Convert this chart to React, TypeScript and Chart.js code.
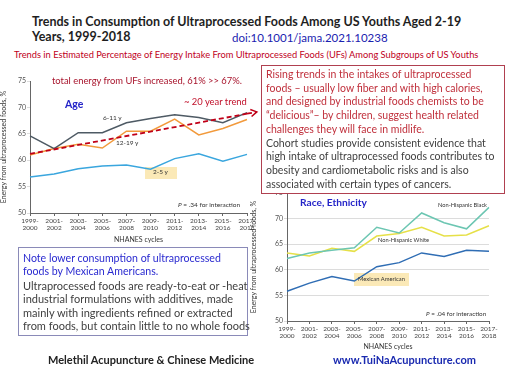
import React, { useEffect, useRef } from "react";
import { Chart, registerables } from "chart.js";
Chart.register(...registerables);

const cycles = [
  ["1999-", "2000"], ["2001-", "2002"], ["2003-", "2004"], ["2005-", "2006"], ["2007-", "2008"],
  ["2009-", "2010"], ["2011-", "2012"], ["2013-", "2014"], ["2015-", "2016"], ["2017-", "2018"],
];
const age2to5 = [56.8, 57.4, 58.4, 58.9, 59.1, 58.3, 60.3, 61.2, 59.8, 61.1];
const age6to11 = [64.6, 62.2, 65.2, 65.2, 67.1, 67.9, 68.6, 68.1, 67.1, 69.0];
const age12to19 = [61.0, 62.2, 63.0, 62.3, 65.5, 65.5, 67.8, 64.8, 66.0, 67.7];
const trend20y = [61.2, null, null, null, null, null, null, null, null, 68.8];
const mexicanAmerican = [55.8, 57.4, 58.7, 57.8, 60.6, 61.4, 63.3, 62.6, 63.8, 63.6];
const nhWhite = [63.3, 62.7, 64.2, 63.6, 66.6, 67.1, 68.3, 66.6, 66.8, 68.6];
const nhBlack = [62.2, 63.3, 63.8, 64.3, 68.3, 67.2, 71.1, 69.2, 68.0, 72.2];
const yMin = 50;
const yMax = 75;
const yStep = 5;

const FONT = "Lato, 'Open Sans', sans-serif";

const arrowPlugin = {
  id: "trendArrow",
  afterDatasetsDraw(chart: any) {
    chart.data.datasets.forEach((ds: any, i: number) => {
      if (!ds.arrow) return;
      const meta = chart.getDatasetMeta(i);
      const pts = meta.data.filter((p: any, j: number) => ds.data[j] != null);
      if (pts.length < 2) return;
      const a = pts[0], b = pts[pts.length - 1];
      const dx = b.x - a.x, dy = b.y - a.y;
      const len = Math.hypot(dx, dy);
      const ux = dx / len, uy = dy / len;
      const tipX = b.x + ux * 10, tipY = b.y + uy * 10;
      const ctx = chart.ctx;
      ctx.save();
      ctx.strokeStyle = ds.borderColor;
      ctx.lineWidth = ds.borderWidth;
      ctx.setLineDash(ds.borderDash || []);
      ctx.beginPath();
      ctx.moveTo(b.x, b.y);
      ctx.lineTo(tipX, tipY);
      ctx.stroke();
      ctx.setLineDash([]);
      ctx.lineWidth = 1.5;
      const s = 6;
      const px = -uy, py = ux;
      ctx.beginPath();
      ctx.moveTo(tipX - ux * s + px * s * 0.6, tipY - uy * s + py * s * 0.6);
      ctx.lineTo(tipX, tipY);
      ctx.lineTo(tipX - ux * s - px * s * 0.6, tipY - uy * s - py * s * 0.6);
      ctx.stroke();
      ctx.restore();
    });
  },
};

function line(label: string, data: any[], color: string, extra: any = {}) {
  return {
    label,
    data,
    borderColor: color,
    backgroundColor: color,
    borderWidth: 1.5,
    pointRadius: 0,
    tension: 0,
    fill: false,
    ...extra,
  };
}

function makeOptions(yAxisWidth: number, xAxisHeight: number, padding: any, gridY: boolean) {
  return {
    responsive: true,
    maintainAspectRatio: false,
    animation: false,
    layout: { padding },
    plugins: { legend: { display: false }, tooltip: { enabled: false } },
    scales: {
      x: {
        offset: false,
        grid: { drawOnChartArea: false, drawTicks: true, tickLength: 3, color: "#666" },
        border: { color: "#666" },
        ticks: {
          autoSkip: false, maxRotation: 0, padding: 1, color: "#444",
          font: { family: FONT, size: 6.5, lineHeight: 1.1 },
        },
        title: {
          display: true, text: "NHANES cycles", color: "#333",
          font: { family: FONT, size: 7 }, padding: { top: 2, bottom: 0 },
        },
        afterFit: (s: any) => { s.height = xAxisHeight; },
      },
      y: {
        min: yMin, max: yMax,
        grid: { drawOnChartArea: gridY, drawTicks: true, tickLength: 3, color: "#dcdcdc" },
        border: { color: "#666" },
        ticks: { stepSize: yStep, padding: 1, color: "#555", font: { family: FONT, size: 7 } },
        title: {
          display: true, text: "Energy from ultraprocessed foods, %", color: "#333",
          font: { family: FONT, size: 7 }, padding: { top: 0, bottom: 2 },
        },
        afterFit: (s: any) => { s.width = yAxisWidth; },
      },
    },
  };
}

function ChartBox({ left, top, width, height, config }: any) {
  const ref = useRef<HTMLCanvasElement>(null);
  useEffect(() => {
    const chart = new Chart(ref.current as HTMLCanvasElement, config());
    return () => chart.destroy();
  }, []);
  return (
    <div style={{ position: "absolute", left, top, width, height }}>
      <canvas ref={ref} />
    </div>
  );
}

function T({ x, y, size, color = "#222", weight = 400, children, style = {} }: any) {
  return (
    <div
      style={{
        position: "absolute", left: x, top: y, fontSize: size, color, fontWeight: weight,
        whiteSpace: "nowrap", lineHeight: 1, fontFamily: FONT, ...style,
      }}
    >
      {children}
    </div>
  );
}

export default function App() {
  const ageConfig = () => ({
    type: "line",
    data: {
      labels: cycles,
      datasets: [
        line("~ 20 year trend", trend20y, "#c00018", { spanGaps: true, borderDash: [5, 3], borderWidth: 1.8, arrow: true, clip: false }),
        line("6-11 y", age6to11, "#4e5a64"),
        line("12-19 y", age12to19, "#f29a3c"),
        line("2-5 y", age2to5, "#3aa6de"),
      ],
    },
    options: makeOptions(30, 31, { top: 11, right: 15, left: 0, bottom: 6 }, false),
    plugins: [arrowPlugin],
  });
  const raceConfig = () => ({
    type: "line",
    data: {
      labels: cycles,
      datasets: [
        line("Non-Hispanic Black", nhBlack, "#6cc6b2"),
        line("Non-Hispanic White", nhWhite, "#e6e048"),
        line("Mexican American", mexicanAmerican, "#2f6db4"),
      ],
    },
    options: makeOptions(37, 30, { top: 13, right: 23, left: 0, bottom: 9 }, true),
  });

  const redLines = [
    "Rising trends in the intakes of ultraprocessed",
    "foods \u2013 usually low fiber and with high calories,",
    "and designed by industrial foods chemists to be",
    "\u201cdelicious\u201d\u2013 by children, suggest health related",
    "challenges they will face in midlife.",
  ];
  const grayLines = [
    "Cohort studies provide consistent evidence that",
    "high intake of ultraprocessed  foods contributes to",
    "obesity and cardiometabolic risks and is also",
    "associated with certain types of cancers.",
  ];
  const blueLines = ["Note lower consumption of ultraprocessed", "foods by Mexican Americans."];
  const leftGray = [
    "Ultraprocessed foods are ready-to-eat  or -heat",
    "industrial formulations with additives, made",
    "mainly with ingredients refined or extracted",
    "from foods, but contain little to no whole foods",
  ];

  return (
    <div style={{ position: "absolute", left: 0, top: 0, width: 512, height: 384, background: "#fff", overflow: "hidden", fontFamily: FONT }}>
      <T x={32} y={16} size={12.5} weight={700} color="#1e1e1e">Trends in Consumption of Ultraprocessed Foods Among US Youths Aged 2-19</T>
      <T x={32} y={31} size={12.5} weight={700} color="#1e1e1e">Years, 1999-2018</T>
      <T x={232} y={32} size={11.5} color="#1a22b0">doi:10.1001/jama.2021.10238</T>
      <T x={14} y={50} size={9.3} color="#c0001c">Trends in Estimated Percentage of Energy Intake From Ultraprocessed Foods (UFs) Among Subgroups of US Youths</T>

      <div style={{ position: "absolute", left: 145, top: 167, width: 32, height: 12, background: "#fbe9b7" }} />
      <div style={{ position: "absolute", left: 354, top: 273, width: 55, height: 13, background: "#fbe9b7" }} />

      <ChartBox left={0} top={70} width={262} height={180} config={ageConfig} />
      <ChartBox left={250} top={180} width={262} height={180} config={raceConfig} />

      <T x={52} y={76} size={9.4} color="#a8142c">total energy from UFs increased, 61% &gt;&gt;  67%.</T>
      <T x={65} y={99} size={10.5} weight={700} color="#2424c8">Age</T>
      <T x={184} y={97} size={9.4} color="#c0102a">~ 20 year trend</T>
      <T x={103} y={115} size={6.5} color="#333">6-11 y</T>
      <T x={116} y={140} size={6.5} color="#333">12-19 y</T>
      <T x={153} y={169} size={6.5} color="#333">2-5 y</T>
      <T x={178} y={202} size={6.5} color="#333"><i>P</i> = .34 for interaction</T>

      <T x={300} y={197} size={10.2} weight={700} color="#2424c8">Race, Ethnicity</T>
      <T x={438} y={202} size={5.7} color="#333">Non-Hispanic Black</T>
      <T x={378} y={237} size={5.7} color="#333">Non-Hispanic White</T>
      <T x={358} y={276} size={5.8} color="#333">Mexican American</T>
      <T x={426} y={311} size={6.3} color="#333"><i>P</i> = .04 for interaction</T>

      <div style={{ position: "absolute", left: 261, top: 65, width: 242, height: 127, border: "1px solid #b04050", background: "#fff" }} />
      {redLines.map((s, i) => (
        <T key={"r" + i} x={266} y={69 + i * 13.7} size={10.5} color="#c0303c">{s}</T>
      ))}
      {grayLines.map((s, i) => (
        <T key={"g" + i} x={266} y={69 + (i + 5) * 13.7} size={10.5} color="#404040">{s}</T>
      ))}

      <div style={{ position: "absolute", left: 18, top: 247, width: 228, height: 87, border: "1px solid #8a8ab8", background: "#fff" }} />
      {blueLines.map((s, i) => (
        <T key={"b" + i} x={23} y={252.5 + i * 13.5} size={10.6} color="#2a2ad0">{s}</T>
      ))}
      {leftGray.map((s, i) => (
        <T key={"l" + i} x={23} y={252.5 + (i + 2) * 13.5} size={11} color="#404040">{s}</T>
      ))}

      <T x={48} y={354} size={11} weight={700} color="#222">Melethil Acupuncture &amp; Chinese Medicine</T>
      <T x={333} y={354} size={11} weight={700} color="#1a2ab0">www.TuiNaAcupuncture.com</T>
    </div>
  );
}
